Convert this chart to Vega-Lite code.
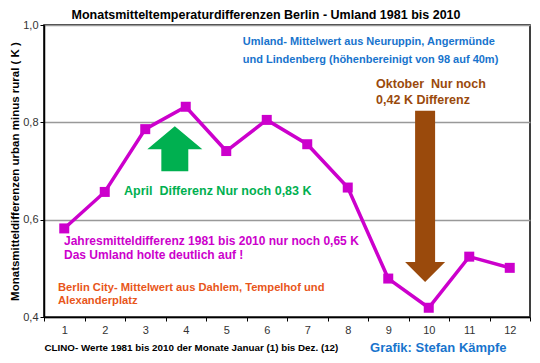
{
  "$schema": "https://vega.github.io/schema/vega-lite/v6.json",
  "width": 486,
  "height": 292,
  "autosize": {"type": "none"},
  "padding": {"left": 44, "top": 25, "right": 10, "bottom": 46},
  "background": "white",
  "config": {
    "font": "Liberation Sans",
    "view": {"stroke": "#000000", "strokeWidth": 1.5}
  },
  "title": {
    "text": "Monatsmitteltemperaturdifferenzen Berlin - Umland 1981 bis 2010",
    "fontSize": 12.5,
    "fontWeight": "bold",
    "font": "Liberation Sans",
    "color": "#000000",
    "anchor": "middle",
    "dx": -21,
    "dy": 8,
    "offset": 6
  },
  "datasets": {
    "main": [
      {"month": 1, "diff": 0.582},
      {"month": 2, "diff": 0.657},
      {"month": 3, "diff": 0.786},
      {"month": 4, "diff": 0.832},
      {"month": 5, "diff": 0.741},
      {"month": 6, "diff": 0.805},
      {"month": 7, "diff": 0.755},
      {"month": 8, "diff": 0.666},
      {"month": 9, "diff": 0.479},
      {"month": 10, "diff": 0.419},
      {"month": 11, "diff": 0.524},
      {"month": 12, "diff": 0.501}
    ],
    "notes": [
      {"x": 5.41, "y": 0.965, "text": "Umland- Mittelwert aus Neuruppin, Angermünde", "group": "umland"},
      {"x": 5.41, "y": 0.928, "text": "und Lindenberg (höhenbereinigt von 98 auf 40m)", "group": "umland"},
      {"x": 8.70, "y": 0.879, "text": "Oktober\u00a0 Nur noch", "group": "oktober"},
      {"x": 8.70, "y": 0.846, "text": "0,42 K Differenz", "group": "oktober"},
      {"x": 2.475, "y": 0.659, "text": "April\u00a0 Differenz Nur noch 0,83 K", "group": "april"},
      {"x": 0.994, "y": 0.556, "text": "Jahresmitteldifferenz 1981 bis 2010 nur noch 0,65 K", "group": "jahr"},
      {"x": 0.994, "y": 0.527, "text": "Das Umland holte deutlich auf !", "group": "jahr"},
      {"x": 0.846, "y": 0.459, "text": "Berlin City- Mittelwert aus Dahlem, Tempelhof und", "group": "city"},
      {"x": 0.846, "y": 0.432, "text": "Alexanderplatz", "group": "city"}
    ]
  },
  "encoding": {
    "x": {
      "field": "month",
      "type": "quantitative",
      "scale": {"domain": [0.5, 12.5], "nice": false, "zero": false},
      "axis": {
        "values": [0.5, 1, 1.5, 2, 2.5, 3, 3.5, 4, 4.5, 5, 5.5, 6, 6.5, 7, 7.5, 8, 8.5, 9, 9.5, 10, 10.5, 11, 11.5, 12, 12.5],
        "labelExpr": "datum.value % 1 === 0 ? format(datum.value, 'd') : ''",
        "tickOpacity": {"condition": {"test": "datum.value % 1 === 0", "value": 0}, "value": 1},
        "tickColor": "#000000",
        "tickSize": 4,
        "domainColor": "#000000",
        "domainWidth": 1.5,
        "grid": false,
        "labelFontSize": 11,
        "labelColor": "#333333",
        "labelPadding": 3,
        "labelFont": "Liberation Sans",
        "title": "CLINO- Werte 1981 bis 2010 der Monate Januar (1) bis Dez. (12)",
        "titleFontSize": 9.8,
        "titleFontWeight": "bold",
        "titleFont": "Liberation Sans",
        "titleColor": "#000000",
        "titleAnchor": "start",
        "titlePadding": 7
      }
    },
    "y": {
      "field": "diff",
      "type": "quantitative",
      "scale": {"domain": [0.4, 1.0], "nice": false, "zero": false},
      "axis": {
        "values": [0.4, 0.6, 0.8, 1.0],
        "labelExpr": "replace(format(datum.value, '.1f'), '.', ',')",
        "grid": true,
        "gridColor": "#999999",
        "gridWidth": 1.5,
        "tickColor": "#000000",
        "tickSize": 4,
        "domainColor": "#000000",
        "domainWidth": 1.5,
        "labelFontSize": 11,
        "labelColor": "#333333",
        "labelPadding": 2,
        "labelFont": "Liberation Sans",
        "title": "Monatsmitteldifferenzen urban minus rural  ( K )",
        "titleFontSize": 11.5,
        "titleFontWeight": "bold",
        "titleFont": "Liberation Sans",
        "titleColor": "#000000",
        "titlePadding": 2
      }
    }
  },
  "layer": [
    {
      "data": {"values": [{"x": 9.91, "y": 0.648}]},
      "mark": {
        "type": "point",
        "filled": true,
        "opacity": 1,
        "color": "#9A4A0C",
        "size": 1600,
        "shape": "M-0.5,-4.28 L0.5,-4.28 L0.5,3.29 L1,3.29 L0,4.28 L-1,3.29 L-0.5,3.29 Z"
      },
      "encoding": {
        "x": {"field": "x", "type": "quantitative"},
        "y": {"field": "y", "type": "quantitative"}
      }
    },
    {
      "data": {"values": [{"x": 3.73, "y": 0.747}]},
      "mark": {
        "type": "point",
        "filled": true,
        "opacity": 1,
        "color": "#00B050",
        "size": 3025,
        "shape": "M0,-0.8 L1,0.04 L0.49,0.04 L0.49,0.84 L-0.49,0.84 L-0.49,0.04 L-1,0.04 Z"
      },
      "encoding": {
        "x": {"field": "x", "type": "quantitative"},
        "y": {"field": "y", "type": "quantitative"}
      }
    },
    {
      "data": {"name": "main"},
      "mark": {"type": "line", "color": "#CC00CC", "strokeWidth": 3.5}
    },
    {
      "data": {"name": "main"},
      "mark": {"type": "point", "shape": "square", "filled": true, "opacity": 1, "color": "#CC00CC", "size": 100}
    },
    {
      "data": {"name": "notes"},
      "mark": {"type": "text", "align": "left", "baseline": "middle", "fontWeight": "bold", "font": "Liberation Sans"},
      "encoding": {
        "x": {"field": "x", "type": "quantitative"},
        "y": {"field": "y", "type": "quantitative"},
        "text": {"field": "text"},
        "color": {
          "field": "group",
          "type": "nominal",
          "scale": {
            "domain": ["umland", "oktober", "april", "jahr", "city"],
            "range": ["#1874CD", "#9A4A0C", "#00B050", "#CC00CC", "#E8561A"]
          },
          "legend": null
        },
        "size": {
          "field": "group",
          "type": "ordinal",
          "scale": {
            "type": "ordinal",
            "domain": ["umland", "oktober", "april", "jahr", "city"],
            "range": [11, 12.5, 12.5, 12, 11.2]
          },
          "legend": null
        }
      }
    },
    {
      "data": {"values": [{"x": 8.55, "y": 0.336, "text": "Grafik: Stefan Kämpfe"}]},
      "mark": {"type": "text", "align": "left", "baseline": "middle", "fontSize": 13, "fontWeight": "bold", "font": "Liberation Sans", "color": "#1874CD"},
      "encoding": {
        "x": {"field": "x", "type": "quantitative"},
        "y": {"field": "y", "type": "quantitative"},
        "text": {"field": "text"}
      }
    }
  ]
}
